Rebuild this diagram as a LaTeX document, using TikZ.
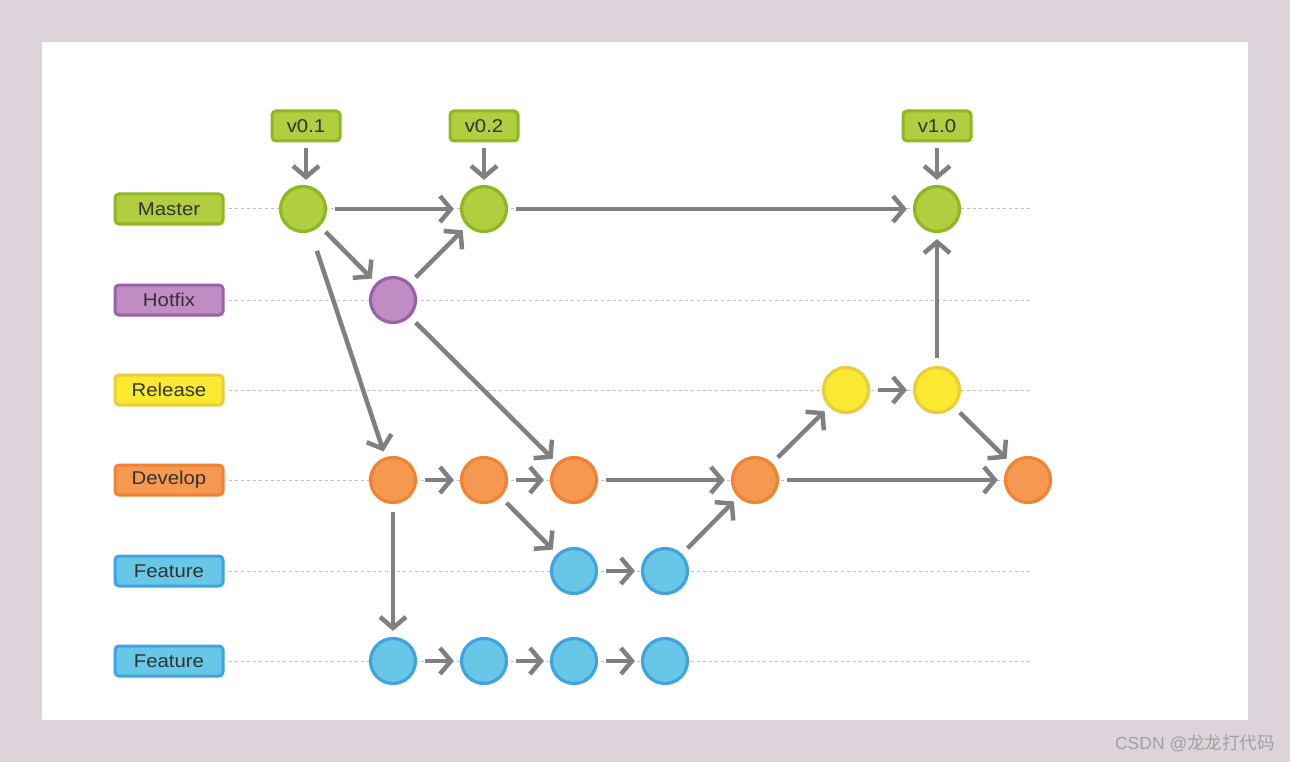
\documentclass[tikz,border=0pt]{standalone}
\usepackage{fontspec}
\usetikzlibrary{arrows.meta}
\newfontfamily\labfont[FakeStretch=1.1]{Liberation Sans}
\newfontfamily\cjkfont{Noto Sans CJK SC}
\newfontfamily\wmfont{Liberation Sans}
\definecolor{bgout}{RGB}{220,211,219}
\definecolor{grF}{RGB}{178,205,64}
\definecolor{grB}{RGB}{141,185,32}
\definecolor{puF}{RGB}{192,140,196}
\definecolor{puB}{RGB}{154,96,168}
\definecolor{yeF}{RGB}{249,233,48}
\definecolor{yeB}{RGB}{234,204,60}
\definecolor{orF}{RGB}{245,152,80}
\definecolor{orB}{RGB}{240,130,52}
\definecolor{blF}{RGB}{104,199,230}
\definecolor{blB}{RGB}{64,163,224}
\definecolor{arrg}{RGB}{128,128,128}
\definecolor{laneg}{RGB}{190,190,190}
\definecolor{txt}{RGB}{50,50,45}
\definecolor{wmg}{RGB}{160,160,160}
\tikzset{
  commit/.style={circle, minimum size=45pt, line width=3.2pt, inner sep=0pt},
  gc/.style={commit, draw=grB, fill=grF},
  pc/.style={commit, draw=puB, fill=puF},
  yc/.style={commit, draw=yeB, fill=yeF},
  oc/.style={commit, draw=orB, fill=orF},
  bc/.style={commit, draw=blB, fill=blF},
  lab/.style={rounded corners=4pt, minimum width=108pt, minimum height=30pt, line width=3pt, inner sep=0pt, font=\labfont\fontsize{18.5}{20}\selectfont, text=txt},
  tag/.style={lab, minimum width=68pt, draw=grB, fill=grF},
  arr/.style={draw=arrg, line width=4.5pt, -{Straight Barb[length=11pt,width=26pt]}, shorten <=8pt, shorten >=6pt},
  lane/.style={draw=laneg, line width=1pt, dash pattern=on 3pt off 3pt}
}
\begin{document}
\begin{tikzpicture}[x=1pt,y=-1pt]
\fill[bgout] (0,0) rectangle (1290,762);
\fill[white] (42,42) rectangle (1248,720);
\useasboundingbox (0,0) rectangle (1290,762);
% labels
\node[lab, draw=grB, fill=grF] (lm) at (169,209) {Master};
\node[lab, draw=puB, fill=puF] (lh) at (169,300) {Hotfix};
\node[lab, draw=yeB, fill=yeF] (lr) at (169,390) {Release};
\node[lab, draw=orB, fill=orF] (ld) at (169,480) {Develop};
\node[lab, draw=blB, fill=blF] (lf1) at (169,571) {Feature};
\node[lab, draw=blB, fill=blF] (lf2) at (169,661) {Feature};
% lane ends
\coordinate (em) at (1030,209);
\coordinate (eh) at (1030,300);
\coordinate (er) at (1030,390);
\coordinate (ed) at (1030,480);
\coordinate (ef1) at (1030,571);
\coordinate (ef2) at (1030,661);
\draw[lane] ([xshift=4pt]lm.east) -- (em);
\draw[lane] ([xshift=4pt]lh.east) -- (eh);
\draw[lane] ([xshift=4pt]lr.east) -- (er);
\draw[lane] ([xshift=4pt]ld.east) -- (ed);
\draw[lane] ([xshift=4pt]lf1.east) -- (ef1);
\draw[lane] ([xshift=4pt]lf2.east) -- (ef2);
% tags
\node[tag] (t1) at (306,126) {v0.1};
\node[tag] (t2) at (484,126) {v0.2};
\node[tag] (t3) at (937,126) {v1.0};
% commits
\node[gc] (m1) at (303,209) {};
\node[gc] (m2) at (484,209) {};
\node[gc] (m3) at (937,209) {};
\node[pc] (h1) at (393,300) {};
\node[yc] (r1) at (846,390) {};
\node[yc] (r2) at (937,390) {};
\node[oc] (d1) at (393,480) {};
\node[oc] (d2) at (484,480) {};
\node[oc] (d3) at (574,480) {};
\node[oc] (d4) at (755,480) {};
\node[oc] (d5) at (1028,480) {};
\node[bc] (fa) at (574,571) {};
\node[bc] (fb) at (665,571) {};
\node[bc] (g1) at (393,661) {};
\node[bc] (g2) at (484,661) {};
\node[bc] (g3) at (574,661) {};
\node[bc] (g4) at (665,661) {};
% arrows
\draw[arr, shorten <=6pt, shorten >=5pt] (t1.south) -- (t1.south |- m1.north);
\draw[arr, shorten <=6pt, shorten >=5pt] (t2) -- (m2);
\draw[arr, shorten <=6pt, shorten >=5pt] (t3) -- (m3);
\draw[arr] (m1) -- (m2);
\draw[arr] (m2) -- (m3);
\draw[arr] (m1) -- (h1);
\draw[arr] (h1) -- (m2);
\draw[arr, shorten <=20pt] (m1) -- (d1);
\draw[arr] (h1) -- (d3);
\draw[arr] (d1) -- (d2);
\draw[arr] (d2) -- (d3);
\draw[arr] (d3) -- (d4);
\draw[arr] (d2) -- (fa);
\draw[arr] (fa) -- (fb);
\draw[arr] (fb) -- (d4);
\draw[arr] (d4) -- (r1);
\draw[arr] (r1) -- (r2);
\draw[arr] (r2) -- (m3);
\draw[arr] (r2) -- (d5);
\draw[arr] (d4) -- (d5);
\draw[arr] (d1) -- (g1);
\draw[arr] (g1) -- (g2);
\draw[arr] (g2) -- (g3);
\draw[arr] (g3) -- (g4);
% watermark
\node[text=wmg, font=\wmfont\fontsize{17.5}{19}\selectfont, anchor=east, inner sep=0pt] (wm) at (1275,743) {CSDN @{\cjkfont 龙龙打代码}};
\end{tikzpicture}
\end{document}
